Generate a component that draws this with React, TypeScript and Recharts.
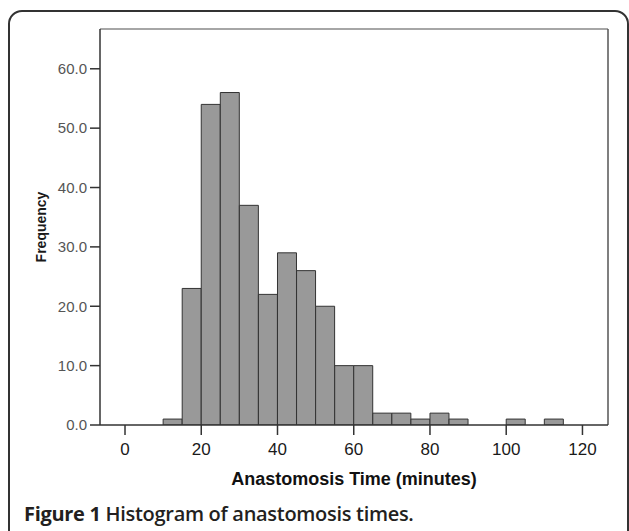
import React from 'react';
import { BarChart, Bar, XAxis, YAxis, ReferenceLine } from 'recharts';

// Histogram bins (minutes): bin start values, width 5
const binStarts = [10, 15, 20, 25, 30, 35, 40, 45, 50, 55, 60, 65, 70, 75, 80, 85, 90, 95, 100, 105, 110];
const counts = [1, 23, 54, 56, 37, 22, 29, 26, 20, 10, 10, 2, 2, 1, 2, 1, 0, 0, 1, 0, 1];
const binWidth = 5;
const xTicks = [0, 20, 40, 60, 80, 100, 120];
const yTicks = [0, 10, 20, 30, 40, 50, 60];
const xDomain: [number, number] = [-6.56, 126.7];
const yDomain: [number, number] = [0, 66.7];

const data = binStarts.map((s, i) => ({ x: s + binWidth / 2, count: counts[i] }));

const FONT = 'Arial, "Liberation Sans", Helvetica, sans-serif';

export default function App() {
  return (
    <div style={{ position: 'absolute', left: 0, top: 0, width: 629, height: 531, overflow: 'hidden', background: '#fff' }}>
      <div
        style={{
          position: 'absolute',
          left: 8,
          top: 10,
          width: 621,
          height: 600,
          boxSizing: 'border-box',
          border: '2px solid #333',
          borderRadius: 14,
        }}
      />
      <div style={{ position: 'absolute', left: 0, top: 0 }}>
        <BarChart
          width={629}
          height={531}
          data={data}
          margin={{ top: 29, right: 21, left: 0, bottom: 75 }}
          barCategoryGap={0}
          barGap={0}
        >
          <XAxis
            dataKey="x"
            type="number"
            domain={xDomain}
            allowDataOverflow
            ticks={xTicks}
            height={31}
            tickSize={10}
            tickMargin={8}
            tick={{ fill: '#1a1a1a', fontSize: 17, fontFamily: FONT }}
            tickLine={{ stroke: '#333', strokeWidth: 1.5 }}
            axisLine={{ stroke: '#333', strokeWidth: 1.5 }}
          />
          <YAxis
            type="number"
            domain={yDomain}
            allowDataOverflow
            ticks={yTicks}
            width={100}
            tickSize={10}
            tickMargin={3}
            tickFormatter={(v: number) => v.toFixed(1)}
            tick={{ fill: '#555', fontSize: 15, fontFamily: FONT }}
            tickLine={{ stroke: '#333', strokeWidth: 1.5 }}
            axisLine={{ stroke: '#333', strokeWidth: 1.5 }}
          />
          <ReferenceLine y={yDomain[1]} stroke="#888" strokeWidth={1.5} ifOverflow="visible" />
          <ReferenceLine x={xDomain[1]} stroke="#555" strokeWidth={1.5} ifOverflow="visible" />
          <Bar dataKey="count" fill="#999999" stroke="#333333" strokeWidth={1} isAnimationActive={false} />
        </BarChart>
      </div>
      <div
        style={{
          position: 'absolute',
          left: 41,
          top: 227,
          transform: 'translate(-50%, -50%) rotate(-90deg)',
          whiteSpace: 'nowrap',
          lineHeight: 1,
          fontFamily: FONT,
          fontWeight: 700,
          fontSize: 14,
          color: '#1a1a1a',
        }}
      >
        Frequency
      </div>
      <div
        style={{
          position: 'absolute',
          left: 354,
          top: 470,
          transform: 'translateX(-50%)',
          whiteSpace: 'nowrap',
          lineHeight: 1,
          fontFamily: FONT,
          fontWeight: 700,
          fontSize: 18,
          color: '#111',
        }}
      >
        Anastomosis Time (minutes)
      </div>
      <div
        style={{
          position: 'absolute',
          left: 24,
          top: 504,
          whiteSpace: 'nowrap',
          lineHeight: 1,
          fontFamily: '"Open Sans", "Noto Sans", sans-serif',
          fontSize: 20,
          letterSpacing: -0.3,
          color: '#231f20',
        }}
      >
        <span style={{ fontWeight: 700 }}>Figure 1</span>
        <span style={{ fontWeight: 600 }}> Histogram of anastomosis times.</span>
      </div>
    </div>
  );
}
